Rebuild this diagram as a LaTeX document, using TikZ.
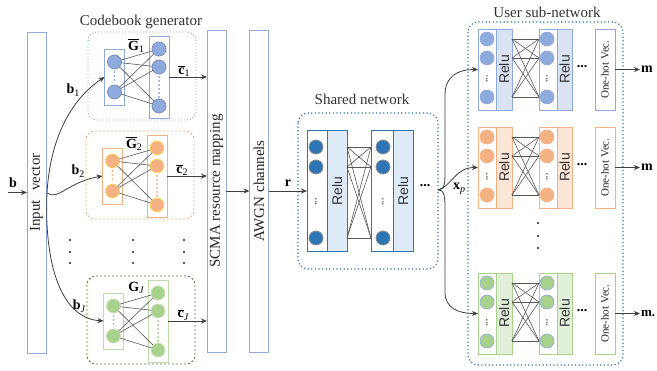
\documentclass[tikz,border=0pt]{standalone}
\usepackage{fontspec}
\setmainfont{Liberation Serif}
\setsansfont{Liberation Sans}
\usetikzlibrary{arrows.meta}
\definecolor{bxblue}{HTML}{8FAADC}
\definecolor{dkblue}{HTML}{2E75B6}
\definecolor{ltblue}{HTML}{DEEBF7}
\definecolor{ublue}{HTML}{DAE3F3}
\definecolor{orn}{HTML}{F4B183}
\definecolor{ltorn}{HTML}{FBE5D6}
\definecolor{ylw}{HTML}{FFD966}
\definecolor{grn}{HTML}{A9D18E}
\definecolor{ltgrn}{HTML}{E2F0D9}
\definecolor{dkgrn}{HTML}{548235}
\definecolor{lnk}{HTML}{595959}
\definecolor{arrc}{HTML}{3F3F3F}
\newcommand\mysub[1]{\raisebox{-0.4ex}{\fontsize{10}{10}\selectfont #1}}
\tikzset{
  every node/.append style={inner sep=0pt, outer sep=0pt},
  tall/.style={draw=bxblue, line width=0.9pt, rotate=90, minimum height=19pt, font=\fontsize{15}{18}\selectfont, text=black!85},
  title/.style={font=\fontsize{15}{18}\selectfont, text=black!80},
  lbl/.style={font=\fontsize{14}{16}\selectfont},
  cnode/.style={circle, minimum size=14pt, line width=0.8pt},
  link/.style={draw=lnk, line width=0.6pt},
  arr/.style={draw=arrc, line width=0.8pt, -{Stealth[length=6pt,width=5pt]}},
  relufont/.style={font=\sffamily\fontsize{14}{14}\selectfont, text=black!80},
  cbbox1/.style={draw=bxblue, line width=0.9pt, dash pattern=on 1pt off 2pt, rounded corners=9pt},
  cbbox2/.style={draw=orn, line width=0.9pt, dash pattern=on 2pt off 2pt, rounded corners=9pt},
  cbbox3/.style={draw=dkgrn, line width=0.9pt, dash pattern=on 2pt off 2pt, rounded corners=9pt},
  cbr1/.style={draw=bxblue, line width=0.9pt, minimum width=20pt},
  cbr2/.style={draw=orn, line width=0.9pt, minimum width=20pt},
  cbr3/.style={draw=grn!75, line width=0.9pt, minimum width=20pt},
  cbn1/.style={cnode, fill=bxblue, draw=bxblue!85!black},
  cbn2/.style={cnode, fill=orn, draw=ylw},
  cbn3/.style={cnode, fill=grn, draw=grn!60},
  cbd1/.style={draw=bxblue, line width=2.4pt, line cap=round, dash pattern=on 0pt off 4pt},
  cbd2/.style={draw=orn, line width=2.4pt, line cap=round, dash pattern=on 0pt off 4pt},
  cbd3/.style={draw=grn, line width=2.4pt, line cap=round, dash pattern=on 0pt off 4pt},
  contbox/.style={draw=dkblue, line width=1.1pt, dash pattern=on 1.2pt off 2.4pt, rounded corners=10pt},
  vdots/.style={rotate=90, text=black!60, font=\fontsize{10}{10}\selectfont\bfseries},
}
\begin{document}
\begin{tikzpicture}[x=1pt,y=-1pt]
\path[use as bounding box, fill=white] (0,0) rectangle (657,371);

% titles
\node[title] (tcg) at (141,22) {Codebook generator};
\node[title] (tsn) at (362,99) {Shared network};
\node[title] (tus) at (547,12) {User sub-network};

% tall boxes
\node[tall, minimum width=321pt] (inp) at (36.5,192.5) {Input\hspace{9pt}vector};
\node[tall, minimum width=322pt] (scma) at (216.5,191) {SCMA resource mapping};
\node[tall, minimum width=322pt] (awgn) at (259,191) {AWGN channels};

% input
\coordinate (bin) at (8,192.5);
\draw[arr] (bin) -- (inp.north);
\node[lbl] (lb) at (13,183) {\textbf{b}};

% codebook blocks
\foreach \k/\ox/\oy/\sb in {1/88/32/1, 2/86/131/2, 3/87/276/{\itshape J}}{
  \draw[cbbox\k] (\ox,\oy) rectangle ++(108,88);
  \node[cbr\k, minimum height=56pt] (cL\k) at (\ox+26.5,\oy+45) {};
  \node[cbr\k, minimum height=82pt] (cR\k) at (\ox+71,\oy+45) {};
  \node[cbn\k] (cLa\k) at (\ox+26.5,\oy+30) {};
  \node[cbn\k] (cLb\k) at (\ox+26.5,\oy+60) {};
  \node[cbn\k] (cRa\k) at (\ox+71,\oy+17) {};
  \node[cbn\k] (cRb\k) at (\ox+71,\oy+35) {};
  \node[cbn\k] (cRc\k) at (\ox+71,\oy+74) {};
  \draw[cbd\k] (\ox+26.5,\oy+40) -- (\ox+26.5,\oy+51);
  \draw[cbd\k] (\ox+71,\oy+45) -- (\ox+71,\oy+65);
  \foreach \p in {a,b}{
    \foreach \q in {a,b,c}{
      \draw[link] (cL\p\k) -- (cR\q\k);
    }
  }
  \node[lbl] (cc\k) at (\ox+96,\oy+39) {$\overline{\mbox{\bfseries c}}$\mysub{\sb}};
  \draw[arr] (cR\k.east) -- (cR\k.east -| scma.north);
}
\node[lbl] (g1) at (136,46) {$\overline{\mbox{\bfseries G}}$\mysub{1}};
\node[lbl] (g2) at (134,144) {$\overline{\mbox{\bfseries G}}$\mysub{2}};
\node[lbl] (g3) at (136,288) {\textbf{G}\mysub{\itshape J}};

% vertical dots between codebook blocks
\foreach \x in {70,133,184}{
  \foreach \y in {240,252,263}{
    \fill[black!85] (\x,\y) circle (1.2pt);
  }
}

% branches from input vector
\coordinate (bt) at (47,193);
\draw[arr] (bt) .. controls (50,140) and (70,100) .. (cL1.west);
\draw[arr] (bt) .. controls (58,201) and (68,182) .. (cL2.west);
\draw[arr] (bt) .. controls (44,262) and (60,318) .. (cL3.west);
\node[lbl] (lb1) at (73,90) {\textbf{b}\mysub{1}};
\node[lbl] (lb2) at (78,171) {\textbf{b}\mysub{2}};
\node[lbl] (lbJ) at (79,306) {\textbf{b}\mysub{\itshape J}};

% SCMA -> AWGN
\draw[arr] (scma.south) -- (awgn.north);

% shared network
\draw[contbox] (298,113) rectangle (438,269);
\node[draw=dkblue, line width=1pt, fill=white, minimum width=20pt, minimum height=121pt] (s1w) at (317,191) {};
\node[draw=dkblue, line width=1pt, fill=ltblue, rotate=90, minimum width=121pt, minimum height=20pt, relufont] (s1r) at (337,191) {Relu};
\node[draw=dkblue, line width=1pt, fill=white, minimum width=22pt, minimum height=121pt] (s2w) at (382,191) {};
\node[draw=dkblue, line width=1pt, fill=ltblue, rotate=90, minimum width=121pt, minimum height=20pt, relufont] (s2r) at (403,191) {Relu};
\foreach \i/\y in {a/147,b/167,c/238}{
  \node[cnode, fill=dkblue, draw=black!45] (s1\i) at (316,\y) {};
  \node[cnode, fill=dkblue, draw=black!45] (s2\i) at (383,\y) {};
  \coordinate (sA\i) at (347,\y);
  \coordinate (sB\i) at (371,\y);
}
\foreach \p in {a,b,c}{
  \foreach \q in {a,b,c}{
    \draw[link] (sA\p) -- (sB\q);
  }
}
\node[vdots] (sd1) at (316,202) {...};
\node[vdots] (sd2) at (383,202) {...};
\node[lbl] (sdots) at (425,186) {\textbf{...}};
\draw[arr] (awgn.south) -- (s1w.west);
\node[lbl] (lr) at (288,183) {\textbf{r}};

% user sub-network
\draw[contbox] (468,22) rectangle (623,365);
\foreach \k/\ta/\tb/\ucb/\ucf/\ucn in {1/29/110/bxblue/ublue/bxblue, 2/127/208/orn/ltorn/orn, 3/273/354/grn/ltgrn/bxblue}{
  \pgfmathsetmacro\ym{(\ta+\tb)/2}
  \pgfmathsetmacro\hh{\tb-\ta}
  \pgfmathsetmacro\ya{\ta+10}
  \pgfmathsetmacro\yb{\ta+29}
  \pgfmathsetmacro\yc{\tb-13}
  \pgfmathsetmacro\yd{\ta+50}
  \node[draw=\ucb, line width=0.9pt, fill=white, minimum width=18pt, minimum height=\hh pt] (ua\k) at (487,\ym) {};
  \node[draw=\ucb, line width=0.9pt, fill=\ucf, rotate=90, minimum width=\hh pt, minimum height=16pt, relufont] (uar\k) at (504,\ym) {Relu};
  \node[draw=\ucb, line width=0.9pt, fill=white, minimum width=18pt, minimum height=\hh pt] (ub\k) at (548,\ym) {};
  \node[draw=\ucb, line width=0.9pt, fill=\ucf, rotate=90, minimum width=\hh pt, minimum height=15pt, relufont] (ubr\k) at (564.5,\ym) {Relu};
  \foreach \i/\y in {a/\ya, b/\yb, c/\yc}{
    \node[cnode, fill=\ucb, draw=\ucn, line width=0.6pt] (una\k\i) at (487,\y) {};
    \node[cnode, fill=\ucb, draw=\ucn, line width=0.6pt] (unb\k\i) at (547,\y) {};
    \coordinate (uA\k\i) at (512,\y);
    \coordinate (uB\k\i) at (539,\y);
  }
  \foreach \p in {a,b,c}{
    \foreach \q in {a,b,c}{
      \draw[link] (uA\k\p) -- (uB\k\q);
    }
  }
  \node[vdots] (ud1\k) at (487,\yd) {...};
  \node[vdots] (ud2\k) at (547,\yd) {...};
  \node[lbl] (udots\k) at (582,\ym-3) {\textbf{...}};
  \node[draw=\ucb, line width=0.9pt, fill=white, rotate=90, minimum width=\hh pt, minimum height=20pt, font=\fontsize{11}{12}\selectfont, text=black!85] (uo\k) at (605,\ym) {One-hot Vec.};
  \coordinate (ue\k) at (640,\ym);
  \draw[arr] (uo\k.south) -- (ue\k);
}
\node[lbl, anchor=west] (m1) at (641,69.5) {\textbf{m}};
\node[lbl, anchor=west] (m2) at (641,167.5) {\textbf{m}};
\node[lbl, anchor=west, font=\fontsize{13}{15}\selectfont] (m3) at (641,313.5) {\textbf{m.}};

% dots between user blocks
\foreach \y in {223,236,248}{
  \fill[black!85] (538,\y) circle (1.2pt);
}

% branches to user sub-networks
\coordinate (xt) at (438,190);
\draw[arr] (xt) .. controls (445,190) and (445,182) .. (445,170) -- (445,95) .. controls (445,76) and (458,69.5) .. (ua1.west);
\draw[arr] (xt) .. controls (452,186) and (455,167.5) .. (ua2.west);
\draw[arr] (xt) .. controls (445,190) and (445,198) .. (445,210) -- (445,292) .. controls (445,308) and (458,313.5) .. (ua3.west);
\node[lbl] (lxp) at (459,189) {\textbf{x}\mysub{\itshape p}};
\end{tikzpicture}
\end{document}
